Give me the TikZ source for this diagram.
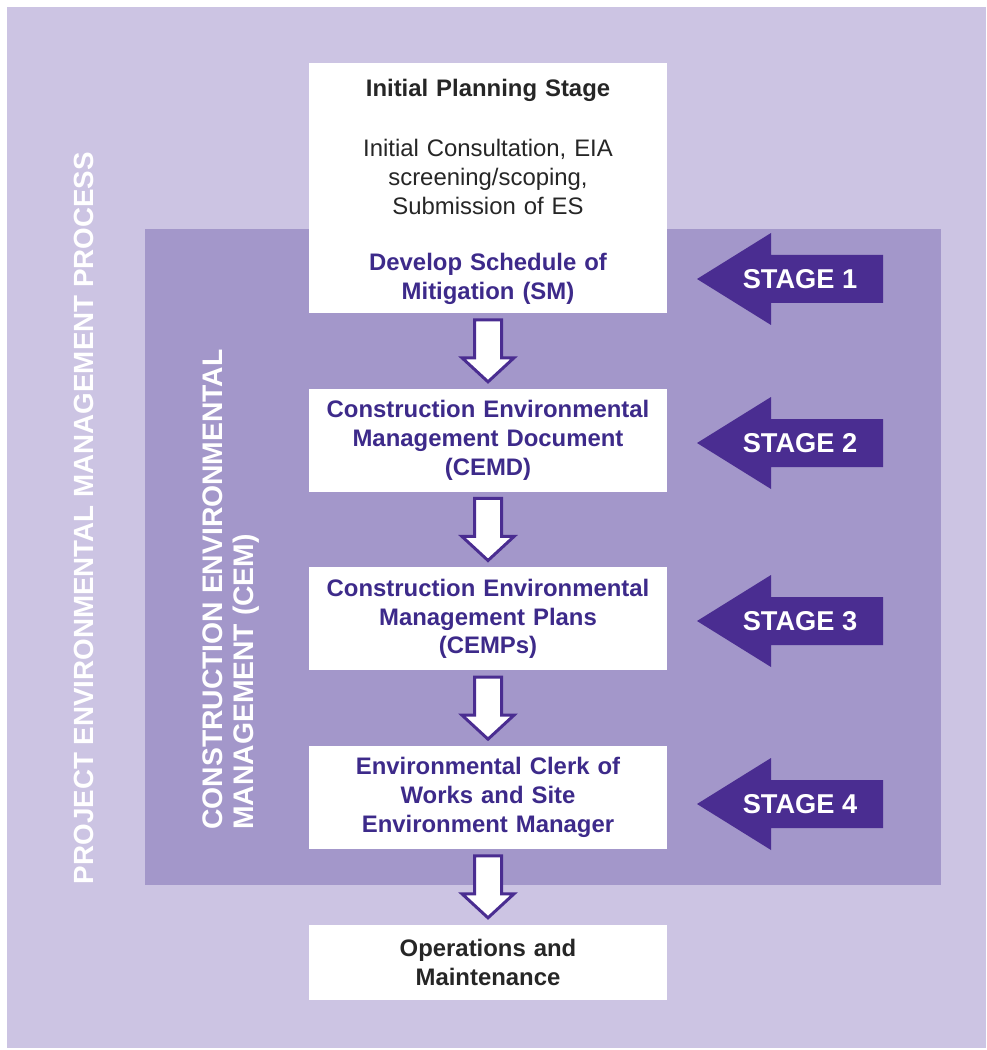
\documentclass[tikz,border=0pt]{standalone}
\usepackage{fontspec}
\setmainfont{Liberation Sans}
\usetikzlibrary{positioning, calc}

\definecolor{outerbg}{HTML}{CCC4E3}
\definecolor{cembg}{HTML}{A397CA}
\definecolor{darkpurple}{HTML}{4A2D91}
\definecolor{textpurple}{HTML}{3D2A8A}

\begin{document}
\begin{tikzpicture}[x=0.02cm, y=0.02cm,
        node distance=1.5cm,
        box/.style={rectangle, fill=white, text width=7.16cm, minimum width=7.16cm, minimum height=2.06cm, inner sep=0pt, align=center, text=textpurple, font=\fontsize{13.6}{16.4}\selectfont\bfseries},
        flowarrow/.style={draw=darkpurple, fill=white, line width=1.7pt, line join=miter},
        stagefill/.style={fill=darkpurple},
        stagetext/.style={text=white, inner sep=0pt, font=\fontsize{15.5}{18}\selectfont\bfseries},
        sidetext/.style={text=white, rotate=90, inner sep=0pt, align=left, font=\fontsize{15.8}{18.1}\selectfont\bfseries}
    ]
        \useasboundingbox (0,0) rectangle (986,-1050);

        % Backgrounds
        \fill[outerbg] (7,-7) rectangle (986,-1048);
        \fill[cembg] (145,-229) rectangle (941,-885);

        % Side labels
        \node[sidetext] (pemp) at (84,-518) {PROJECT ENVIRONMENTAL MANAGEMENT PROCESS};
        \node[sidetext, anchor=west, font=\fontsize{16.1}{18.1}\selectfont\bfseries] (cem) at (231,-830) {CONSTRUCTION ENVIRONMENTAL\\MANAGEMENT (CEM)};

        % Process boxes
        \node[box, minimum height=5cm] (plan) at (488,-188) {};
        \node[box, fill=none, text=black!85] (plantext) at ($(plan.center)+(0,-4)$) {%
            {\bfseries Initial Planning Stage}\\[0.62cm]
            {\mdseries Initial Consultation, EIA}\\
            {\mdseries screening/scoping,}\\
            {\mdseries Submission of ES}\\[0.56cm]
            {\color{textpurple}Develop Schedule of}\\
            {\color{textpurple}Mitigation (SM)}};
        \node[box, below=of plan] (cemd) {Construction Environmental\\Management Document\\(CEMD)};
        \node[box, below=of cemd] (cemp) {Construction Environmental\\Management Plans\\(CEMPs)};
        \node[box, below=of cemp] (ecow) {Environmental Clerk of\\Works and Site\\Environment Manager};
        \node[box, below=of ecow, minimum height=1.5cm, text=black!85] (ops) {Operations and\\Maintenance};

        % Arrows between boxes
        \foreach \a/\b in {plan/cemd, cemd/cemp, cemp/ecow, ecow/ops} {
            \draw[flowarrow] ($(\a.south)!0.5!(\b.north)$) ++(-13.5,31) -- ++(0,-38) -- ++(-12.5,0)
                -- ++(26,-24) -- ++(26,24) -- ++(-12.5,0) -- ++(0,38) -- cycle;
        }

        % Stage markers
        \foreach \n/\y in {1/279, 2/443, 3/621, 4/804} {
            \fill[stagefill] (697,-\y) -- ++(74,46) -- ++(0,-22) -- ++(112,0) -- ++(0,-48)
                -- ++(-112,0) -- ++(0,-22) -- cycle;
            \node[stagetext] (stage\n) at (800,-\y) {STAGE \n};
        }
    \end{tikzpicture}
\end{document}
